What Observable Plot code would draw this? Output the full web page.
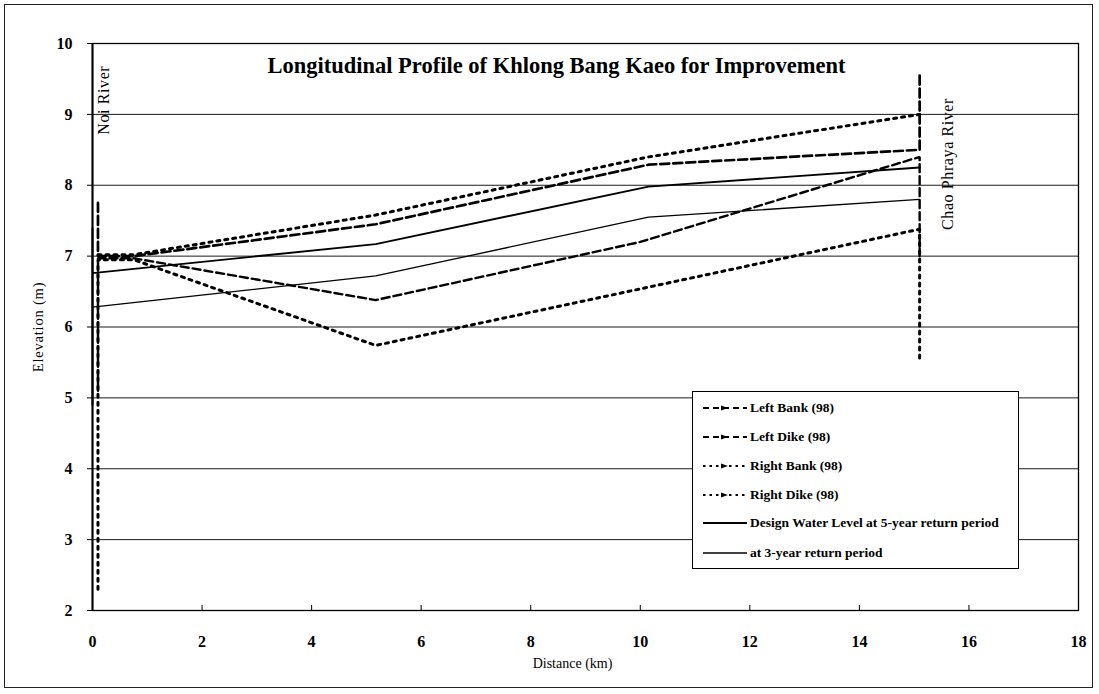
<!DOCTYPE html>
<html>
<head>
<meta charset="utf-8">
<script src="https://cdn.jsdelivr.net/npm/d3@7"></script>
<script src="https://cdn.jsdelivr.net/npm/@observablehq/plot@0.6"></script>
<style>
  html, body { margin: 0; padding: 0; background: #fff; }
  #wrap { position: relative; width: 1099px; height: 694px; font-family: "Liberation Serif", "Times New Roman", serif; }
  #border { position: absolute; left: 4px; top: 4px; width: 1089px; height: 684px; border: 1px solid #222; box-sizing: border-box; pointer-events: none; }
  #legend { position: absolute; left: 692px; top: 391px; width: 327px; height: 178px; border: 1.5px solid #000; background: #fff; box-sizing: border-box; }
  .row { position: absolute; left: 8px; height: 20px; display: flex; align-items: center; font-size: 13.5px; font-weight: bold; color: #000; white-space: nowrap; }
  .row svg { margin-right: 1px; }
</style>
</head>
<body>
<div id="wrap"><div id="chart"></div><div id="legend"></div><div id="border"></div></div>
<script>
// ---- data ----
const seriesNames = [
  "Left Bank (98)",
  "Left Dike (98)",
  "Right Bank (98)",
  "Right Dike (98)",
  "Design Water Level at 5-year return period",
  "at 3-year return period"
];
const leftBankDist  = [0.1, 0.1, 0.75, 5.17, 10.0, 15.1, 15.1];
const leftBankElev  = [5.1, 6.97, 6.97, 6.38, 7.2, 8.4, 7.0];
const leftDikeDist  = [0.1, 0.1, 0.75, 5.17, 10.15, 15.1, 15.1];
const leftDikeElev  = [7.75, 7.0, 7.0, 7.45, 8.29, 8.5, 9.55];
const rightBankDist = [0.1, 0.1, 0.75, 5.17, 15.1, 15.1];
const rightBankElev = [2.3, 6.95, 6.95, 5.74, 7.38, 5.5];
const rightDikeDist = [0.1, 0.75, 5.17, 10.15, 15.1];
const rightDikeElev = [7.02, 7.02, 7.58, 8.4, 9.0];
const wl5Dist = [0, 0, 0, 5.17, 10.15, 15.1];
const wl5Elev = [4.9, 7.4, 6.76, 7.17, 7.98, 8.25];
const wl3Dist = [0, 5.17, 10.15, 15.1];
const wl3Elev = [6.28, 6.72, 7.55, 7.8];

const xTicks = [0, 2, 4, 6, 8, 10, 12, 14, 16, 18];
const yTicks = [2, 3, 4, 5, 6, 7, 8, 9, 10];
const gridY = [3, 4, 5, 6, 7, 8, 9];

const riverNames = ["Noi River", "Chao Phraya River"];
const riverDist = [0.2, 15.62];
const riverElev = [9.2, 8.3];

const titleText = "Longitudinal Profile of Khlong Bang Kaeo for Improvement";
const xLabel = "Distance (km)";
const yLabel = "Elevation (m)";

// ---- build ----
const dists = [leftBankDist, leftDikeDist, rightBankDist, rightDikeDist, wl5Dist, wl3Dist];
const elevs = [leftBankElev, leftDikeElev, rightBankElev, rightDikeElev, wl5Elev, wl3Elev];
const styles = [
  {strokeWidth: 2.4, strokeDasharray: "8,4"},
  {strokeWidth: 2.7, strokeDasharray: "9,4"},
  {strokeWidth: 3, strokeDasharray: "3,5"},
  {strokeWidth: 3, strokeDasharray: "3,5"},
  {strokeWidth: 1.9, strokeDasharray: null},
  {strokeWidth: 1.3, strokeDasharray: null}
];
const rows = [];
seriesNames.forEach((s, i) => dists[i].forEach((d, j) => rows.push({series: s, d, e: elevs[i][j]})));
const rivers = riverNames.map((n, i) => ({n, d: riverDist[i], e: riverElev[i]}));

const font = "Liberation Serif, Times New Roman, serif";
const lineMarks = seriesNames.map((s, i) => Plot.line(rows.filter(r => r.series === s), {
  x: "d", y: "e", stroke: "#000", strokeWidth: styles[i].strokeWidth,
  strokeDasharray: styles[i].strokeDasharray, strokeLinejoin: "miter"
}));

const chart = Plot.plot({
  width: 1099, height: 694,
  marginLeft: 92, marginRight: 21, marginTop: 43, marginBottom: 84,
  style: {fontFamily: font, background: "transparent", color: "#000"},
  x: {domain: [0, 18]},
  y: {domain: [2, 10]},
  marks: [
    Plot.ruleY(gridY, {stroke: "#000", strokeWidth: 0.9}),
    Plot.frame({stroke: "#000", strokeWidth: 1.3}),
    Plot.ruleX([0], {stroke: "#000", strokeWidth: 2}),
    Plot.axisX({ticks: xTicks, tickSize: -5, tickPadding: 30, fontSize: 16, fontWeight: "bold", fontFamily: font, label: null, tickFormat: d => d}),
    Plot.axisY({ticks: yTicks, tickSize: 5, tickPadding: 15, fontSize: 16, fontWeight: "bold", fontFamily: font, label: null, tickFormat: d => d}),
    ...lineMarks,
    Plot.text(rivers, {x: "d", y: "e", text: "n", rotate: -90, fontSize: 16, fontFamily: font, fill: "#000"}),
    Plot.text([titleText], {frameAnchor: "top", dy: 14, dx: -29, fontSize: 22.5, fontWeight: "bold", fontFamily: font, fill: "#000"}),
    Plot.text([xLabel], {frameAnchor: "bottom", dy: 57, dx: -13, fontSize: 14, fontFamily: font, fill: "#000"}),
    Plot.text([yLabel], {frameAnchor: "left", textAnchor: "middle", dx: -54, rotate: -90, fontSize: 14.5, fontFamily: font, fill: "#000"})
  ]
});
document.getElementById("chart").appendChild(chart);
// widen scanned-looking river labels slightly
chart.querySelectorAll("text").forEach(t => {
  if (riverNames.includes(t.textContent)) t.setAttribute("letter-spacing", "0.6");
  if (t.textContent === yLabel) t.setAttribute("letter-spacing", "0.8");
});

// ---- legend ----
const legend = document.getElementById("legend");
const legendTops = [6, 35, 64, 93, 121, 151];
seriesNames.forEach((s, i) => {
  const row = document.createElement("div");
  row.className = "row";
  row.style.top = legendTops[i] + "px";
  const st = styles[i];
  const marker = i < 4 ? `<path d="M20,7.5 L27,10 L20,12.5 Z" fill="#000"/>` : "";
  const dash = st.strokeDasharray ? `stroke-dasharray="${i < 2 ? '6,4' : '2.5,4'}"` : "";
  row.innerHTML = `<svg width="48" height="20"><line x1="2" y1="10" x2="46" y2="10" stroke="#000" stroke-width="${Math.min(st.strokeWidth, 2.2)}" ${dash}/>${marker}</svg><span>${s}</span>`;
  legend.appendChild(row);
});
</script>
</body>
</html>
